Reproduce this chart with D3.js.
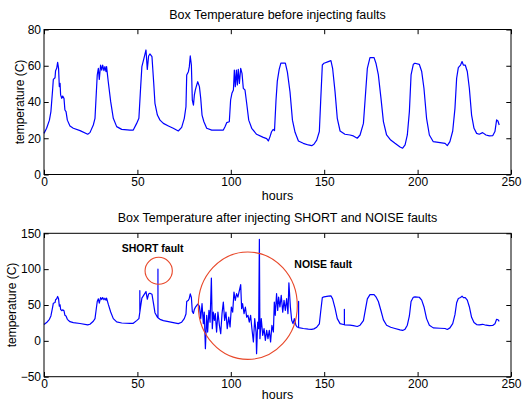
<!DOCTYPE html>
<html>
<head>
<meta charset="utf-8">
<script src="https://cdn.jsdelivr.net/npm/d3@7"></script>
<style>
  body { margin: 0; background: #fff; }
  svg { display: block; }
  text { font-family: "Liberation Sans", Arial, Helvetica, sans-serif; fill: #000; }
</style>
</head>
<body>
<svg id="chart" width="523" height="403"></svg>
<script>
// Hourly box temperature readings (hours since start, degrees C)
const hoursBefore = [
  0, 1.4, 2.9, 3.7, 4.6, 5.0, 5.9, 6.2, 6.8, 7.3, 7.8, 8.2, 8.6, 8.9, 9.5, 10.0, 10.7, 11.2, 11.8, 12.5,
  13.9, 15.7, 19.3, 23.4, 24.6, 26.4, 27.3, 27.8, 28.5, 29.1, 29.6, 30.3, 30.9, 31.4, 32.1, 32.6, 33.2, 33.5,
  34.4, 35.7, 37.1, 38.9, 41.6, 46.0, 47.8, 49.6, 50.8, 51.7, 52.4, 53.5, 54.6, 55.3, 56.0, 56.7, 57.8, 58.7,
  59.4, 60.7, 62.1, 63.9, 66.6, 69.2, 71.9, 73.7, 75.1, 76.0, 76.4, 77.3, 77.8, 78.3, 78.9, 79.4, 80.0, 80.5,
  81.0, 81.5, 82.3, 83.2, 83.9, 84.6, 85.6, 87.1, 89.8, 96.0, 96.9, 97.8, 99.2, 99.9, 100.6, 101.4, 101.9,
  102.4, 103.0, 103.5, 104.0, 104.6, 105.3, 106.0, 106.7, 107.6, 108.5, 109.6, 111.2, 113.8, 117.4, 119.2,
  120.1, 121.0, 121.8, 122.7, 123.4, 124.2, 124.9, 125.9, 126.8, 129.2, 130.3, 131.7, 133.0, 134.4, 136.2,
  138.8, 141.5, 143.3, 144.5, 146.0, 147.4, 148.1, 149.0, 149.9, 152.2, 153.6, 154.5, 155.8, 157.0, 158.5,
  161.1, 163.8, 165.6, 167.7, 169.2, 171.0, 172.2, 173.1, 174.5, 176.7, 177.7, 179.0, 180.4, 181.7, 183.4,
  185.6, 187.9, 190.6, 192.0, 193.3, 194.5, 195.6, 196.5, 197.7, 198.6, 200.9, 202.2, 203.4, 204.8, 206.3,
  208.4, 212.0, 214.7, 215.9, 217.3, 218.8, 220.0, 220.9, 221.8, 223.0, 223.8, 224.5, 225.5, 226.6, 227.7,
  228.9, 230.2, 231.6, 233.0, 234.8, 236.6, 238.4, 240.2, 241.4, 242.3, 243.0, 243.7
];
const tempBefore = [
  22.7, 25.5, 30, 34.7, 46.6, 52.5, 53.4, 57.3, 58.6, 61.9, 58.6, 48.5, 50.3, 43.9, 42, 43.3, 42, 35.6, 34.7, 30,
  26.7, 25.5, 24.2, 22.2, 23.1, 27.3, 31, 41, 54.9, 58.6, 52.5, 60.4, 57.6, 60.4, 57.3, 59.5, 56.7, 59.5,
  51.2, 40.2, 31, 26.4, 24.9, 24.5, 24.5, 28.2, 31, 47.5, 59.5, 64.1, 68.7, 58, 65.4, 66.5, 65, 51,
  39.3, 32.8, 30, 28.2, 26.8, 25.5, 24, 26, 31, 37.4, 54.9, 56.7, 59.5, 65.4, 60.4, 41.1, 38.3, 43.9,
  46.6, 48.5, 51.2, 48.5, 42, 32.8, 29.1, 25.5, 24.5, 24.5, 26.4, 28.6, 29.1, 41.1, 44.8, 46.6, 57.6,
  48.5, 57.6, 49.4, 58, 50.3, 58.6, 55.8, 47.5, 46.6, 39.3, 30, 25.5, 22.2, 20.5, 19.8,
  18.5, 20.9, 23.6, 24.9, 24.2, 41, 51.5, 58, 61.4, 61.4, 56.5, 45.5, 30, 23.3, 18.5,
  17.2, 16.3, 15.9, 16.7, 19, 23.7, 40.2, 60.4, 61.4, 62.3, 62.8, 58.6, 45.7, 31, 24,
  22.2, 21.8, 21.3, 20, 21.8, 28.2, 45.7, 58.6, 64.5, 64.5, 61.4, 54.9, 42, 29.2, 21.8,
  19, 17.2, 15.2, 14.5, 16.3, 21.8, 34.7, 54.9, 60.8, 61.4, 60.8, 56.8, 47.6, 31, 21.8,
  18.1, 17.6, 17.2, 15.9, 18.1, 24, 36.5, 53.1, 59, 60.4, 62.3, 60.4, 60.4, 56.8, 47.6,
  32.8, 25.5, 22.7, 22.2, 23.1, 21.8, 21.3, 21.4, 23.7, 30.1, 29.5, 27.3
];

// NOISE fault: readings that replace the window between noiseStart and noiseEnd
const noiseStart = 83.5;
const noiseEnd = 136.0;
const noiseHours = [
  83.9, 84.6, 85.3, 85.8, 86.4, 87.1, 87.6, 88.3, 88.9, 89.6, 90.1, 90.6, 91.2, 91.7, 92.4, 93.1, 93.9,
  94.6, 95.3, 96.0, 96.7, 97.4, 98.1, 98.9, 99.6, 100.3, 101.0, 101.7, 102.4, 103.1, 103.8, 104.6, 105.3,
  105.8, 106.3, 107.1, 107.8, 108.5, 109.2, 109.9, 110.6, 111.3, 112.1, 112.8, 113.5, 113.8, 114.4, 114.9,
  115.3, 115.6, 116.3, 117.1, 117.8, 118.5, 119.2, 119.9, 120.6, 121.3, 122.0, 122.8, 123.3, 123.8, 124.5,
  125.1, 125.6, 126.3, 127.0, 127.8, 128.5, 129.2, 129.9, 130.6, 131.1, 131.9, 132.6, 133.3, 134.0, 134.9, 135.6
];
const noiseTemps = [
  31, 52, 24, 40, -11, 35.6, 12.3, 42.5, 26, 87.6, 17, 40, 28.6, 38, 12.3, 40, 21.6,
  10, 38, 54, 28.6, 40, 17, 33, 19.3, 47.2, 40, 68, 56.5, 65.8, 61, 70.4, 78.3,
  44.8, 51.8, 38, 47.2, 33, 35.6, 26, 35.6, 17, -1.6, 31, 12.3, -17.9, 26, 17,
  141.6, 3, 31, 7.7, 17, 0.7, 14.6, 3, 14.6, -1.6, 21.6, 12.3, 54, 35.6, 65.8,
  42.5, 61, 47.2, 63.5, 40, 56.5, 42.5, 58.8, 38, 81, 47.2, 28.6, 24, 31, 21.6, 19.3
];

// SHORT faults: single-sample spikes
const shortHours = [51.3, 61.0, 136.3, 160.8];
const shortTemps = [70, 100, 55, 44];

// Ticks
const xTicks = [0, 50, 100, 150, 200, 250];
const yTicksTop = [0, 20, 40, 60, 80];
const yTicksBottom = [-50, 0, 50, 100, 150];

// Text
const titles = ["Box Temperature before injecting faults", "Box Temperature after injecting SHORT and NOISE faults"];
const xLabel = "hours";
const yLabel = "temperature (C)";
const faultNames = ["SHORT fault", "NOISE fault"];

// Fault markers in data units: [centre hour, centre temp, half-width hours, half-height temp]
const shortRing = [61.4, 97.7, 7.3, 18.8];
const noiseRing = [109.1, 49.0, 26.5, 74.9];
// Label anchors in data units: [hour, temp]
const shortLabelAt = [41.6, 124];
const noiseLabelAt = [134.0, 101.6];

// ----- build series -----
const before = hoursBefore.map((h, i) => ({ h, t: tempBefore[i], o: 0 }));
const baseAt = h => {
  const i = d3.bisector(d => d.h).left(before, h);
  if (i <= 0) return before[0].t;
  if (i >= before.length) return before[before.length - 1].t;
  const a = before[i - 1], b = before[i];
  return a.t + (b.t - a.t) * (h - a.h) / (b.h - a.h);
};
let after = before.filter(d => d.h < noiseStart || d.h > noiseEnd);
noiseHours.forEach((h, i) => after.push({ h, t: noiseTemps[i], o: 0 }));
shortHours.forEach((h, i) => {
  const b = baseAt(h);
  after.push({ h, t: b, o: 0 }, { h, t: shortTemps[i], o: 1 }, { h, t: b, o: 2 });
});
after.sort((a, b) => a.h - b.h || a.o - b.o);

// ----- drawing -----
const svg = d3.select("#chart");
const left = 44, right = 511;
const panels = [
  { top: 29.5, bottom: 174.5, yDomain: [0, 80], yTicks: yTicksTop, data: before, title: titles[0], labelX: 23.5, hoursGap: 25 },
  { top: 233.3, bottom: 376.7, yDomain: [-50, 150], yTicks: yTicksBottom, data: after, title: titles[1], labelX: 16, hoursGap: 22 }
];
const tick = 4.7;
const fontTick = 12;

panels.forEach((p, idx) => {
  const x = d3.scaleLinear().domain([0, 250]).range([left, right]);
  const y = d3.scaleLinear().domain(p.yDomain).range([p.bottom, p.top]);
  const g = svg.append("g");

  // the data line
  const line = d3.line().x(d => x(d.h)).y(d => y(d.t));
  g.append("path").datum(p.data)
    .attr("d", line).attr("fill", "none")
    .attr("stroke", "#0000ff").attr("stroke-width", 1.2)
    .attr("stroke-linejoin", "round");

  // axes with inward ticks on all four sides
  const ax = (gen, tx, ty, labels) => {
    const a = g.append("g").attr("transform", `translate(${tx},${ty})`).call(gen);
    a.select(".domain").remove();
    a.selectAll("line").attr("stroke", "#000").attr("stroke-width", 1);
    if (!labels) a.selectAll("text").remove();
    else a.selectAll("text").attr("font-size", fontTick).attr("font-family", null).attr("fill", "#000");
    return a;
  };
  ax(d3.axisBottom(x).tickValues(xTicks).tickSize(-tick).tickPadding(3).tickFormat(d3.format("d")), 0, p.bottom, true);
  ax(d3.axisTop(x).tickValues(xTicks).tickSize(-tick), 0, p.top, false);
  ax(d3.axisLeft(y).tickValues(p.yTicks).tickSize(-tick).tickPadding(3), left, 0, true);
  ax(d3.axisRight(y).tickValues(p.yTicks).tickSize(-tick), right, 0, false);

  g.append("rect").attr("x", left).attr("y", p.top)
    .attr("width", right - left).attr("height", p.bottom - p.top)
    .attr("fill", "none").attr("stroke", "#000").attr("stroke-width", 1);

  // titles and axis labels
  g.append("text").attr("x", (left + right) / 2).attr("y", p.top - 11)
    .attr("text-anchor", "middle").attr("font-size", 12.5).text(p.title);
  g.append("text").attr("x", (left + right) / 2).attr("y", p.bottom + p.hoursGap)
    .attr("text-anchor", "middle").attr("font-size", 12.5).text(xLabel);
  g.append("text")
    .attr("transform", `translate(${p.labelX},${(p.top + p.bottom) / 2}) rotate(-90)`)
    .attr("text-anchor", "middle").attr("font-size", 12).text(yLabel);

  if (idx === 1) {
    // fault markers
    [shortRing, noiseRing].forEach(r => {
      g.append("ellipse")
        .attr("cx", x(r[0])).attr("cy", y(r[1]))
        .attr("rx", x(r[0] + r[2]) - x(r[0]))
        .attr("ry", y(r[1]) - y(r[1] + r[3]))
        .attr("fill", "none").attr("stroke", "#e8482a").attr("stroke-width", 1.1);
    });
    [[shortLabelAt, faultNames[0]], [noiseLabelAt, faultNames[1]]].forEach(([pos, txt]) => {
      g.append("text").attr("x", x(pos[0])).attr("y", y(pos[1]))
        .attr("font-size", 10.5).attr("font-weight", "bold").text(txt);
    });
  }
});
</script>
</body>
</html>
